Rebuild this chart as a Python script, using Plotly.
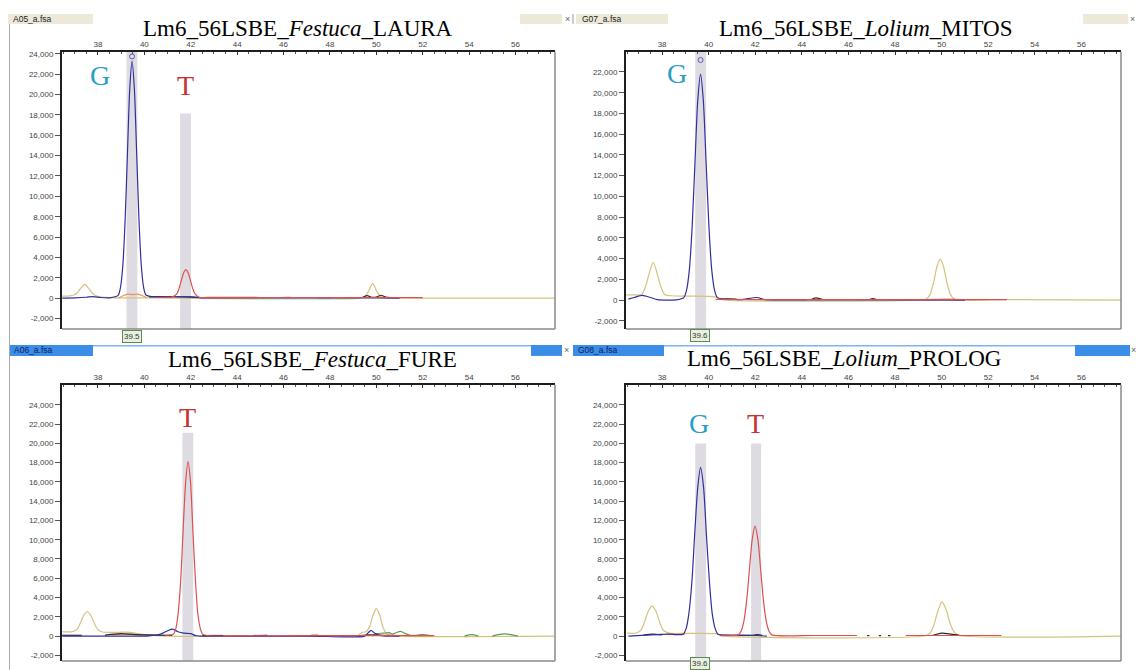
import plotly.graph_objects as go

W, H = 1136, 670

# ---------------- axis / text data ----------------
X_TICKS = [38, 40, 42, 44, 46, 48, 50, 52, 54, 56]
Y_TICKS = [-2000, 0, 2000, 4000, 6000, 8000, 10000, 12000, 14000, 16000,
           18000, 20000, 22000, 24000]
X_RANGE = [36.45, 57.7]
Y_RANGES = [[-3040, 24200], [-2790, 23940], [-2590, 26070], [-2590, 26070]]
FILES = ["A05_a.fsa", "G07_a.fsa", "A06_a.fsa", "G08_a.fsa"]
GENUS = ["Festuca", "Lolium", "Festuca", "Lolium"]
CULTIVAR = ["LAURA", "MITOS", "FURE", "PROLOG"]

# ---------------- top-left: Festuca LAURA ----------------
TL_BLUE_X = [36.46, 37.0, 37.5, 37.8, 38.1, 38.5, 38.87, 38.97, 39.07, 39.17, 39.27, 39.37, 39.47,
             39.57, 39.67, 39.77, 39.87, 39.97, 40.07, 40.3, 41.0, 41.5, 42.0, 42.5, 44.0, 46.0,
             48.0, 50.0, 51.0]
TL_BLUE_Y = [0, 20, 80, 150, 60, 30, 260, 1025, 3150, 7570, 14140, 20550, 23300,
             20550, 14140, 7570, 3150, 1025, 300, 150, 150, 120, 100, 30, 20, 20,
             20, 20, 0]
TL_RED_X = [40.5, 41.0, 41.19, 41.39, 41.49, 41.59, 41.69, 41.79, 41.89, 41.99, 42.09, 42.19,
            42.39, 42.7, 45.0, 48.0, 52.0]
TL_RED_Y = [60, 80, 100, 380, 910, 1700, 2470, 2800, 2470, 1700, 910, 380,
            60, 70, 60, 60, 50]
TL_TAN_X = [36.46, 36.8, 36.95, 37.1, 37.25, 37.43, 37.6, 37.75, 37.9, 38.1, 38.5, 39.0, 40.0,
            40.5, 41.0, 49.3, 49.5, 49.67, 49.84, 50.01, 50.18, 50.4, 50.6, 57.7]
TL_TAN_Y = [200, 220, 300, 500, 950, 1350, 950, 500, 250, 120, 50, 30, 30,
            20, 0, 0, 150, 700, 1440, 700, 150, 0, 0, 0]
TL_ORANGE_X = [38.9, 39.1, 39.3, 39.5, 39.7, 39.9, 40.1]
TL_ORANGE_Y = [0, 250, 380, 340, 380, 250, 40]
TL_GREEN_X = []
TL_GREEN_Y = []
TL_BLACK_X = [40.2, 40.8, 41.4, 42.0, 42.4, None, 46.0, 46.3, None, 47.5, 48.0, None,
              49.4, 49.6, 49.8, 50.0, 50.2, 50.4, 50.6]
TL_BLACK_Y = [120, 130, 130, 120, 60, None, 60, 60, None, 50, 50, None,
              50, 250, 80, 100, 280, 100, 50]
TL_BINS = [[39.23, 39.70, 24200], [41.54, 42.01, 18130]]
TL_ALLELES = [["G", 38.09, 21850], ["T", 41.79, 20900]]
TL_APEX = [39.47, 23750]
TL_SIZE_LABEL = ["39.5", 39.47]

# ---------------- top-right: Lolium MITOS ----------------
TR_BLUE_X = [36.55, 36.8, 37.15, 37.5, 37.8, 38.2, 38.6, 38.93, 39.05, 39.17, 39.29, 39.41, 39.53,
             39.65, 39.77, 39.89, 40.01, 40.13, 40.25, 40.37, 40.6, 41.0, 41.4, 42.07, 42.4,
             43.0, 47.0, 51.0]
TR_BLUE_Y = [100, 250, 450, 250, 50, 0, 20, 240, 960, 2940, 7085, 13230, 19230,
             21800, 19230, 13230, 7085, 2940, 960, 240, 100, 80, 50, 250, 50,
             30, 30, 0]
TR_RED_X = [40.3, 42.0, 45.0, 48.0, 52.8]
TR_RED_Y = [60, 50, 50, 50, 40]
TR_TAN_X = [36.46, 36.9, 37.12, 37.28, 37.45, 37.62, 37.79, 37.96, 38.12, 38.4, 39.0, 40.0, 40.4,
            40.6, 49.2, 49.32, 49.5, 49.66, 49.8, 49.94, 50.08, 50.22, 50.38, 50.56, 52.8, 57.7]
TR_TAN_Y = [500, 500, 550, 1250, 2600, 3650, 2550, 1200, 520, 420, 380, 350, 250,
            30, 30, 75, 530, 1760, 3240, 3950, 3240, 1760, 530, 75, 50, 0]
TR_ORANGE_X = []
TR_ORANGE_Y = []
TR_GREEN_X = []
TR_GREEN_Y = []
TR_BLACK_X = [40.5, 40.8, 41.2, None, 42.7, 43.5, 44.2, None, 44.4, 44.6, 44.9, None,
              46.9, 47.05, 47.2, None, 49.3, 50.2, 50.95]
TR_BLACK_Y = [100, 120, 80, None, 50, 50, 50, None, 60, 220, 60, None,
              50, 150, 50, None, 50, 60, 50]
TR_BINS = [[39.42, 39.89, 23940]]
TR_ALLELES = [["G", 38.65, 21840]]
TR_APEX = [39.65, 23150]
TR_SIZE_LABEL = ["39.6", 39.63]

# ---------------- bottom-left: Festuca FURE ----------------
BL_BLUE_X = [36.46, 38.5, 40.2, 40.7, 41.0, 41.22, 41.45, 41.7, 42.0, 42.2, 42.5, 47.0,
             49.5, 49.65, 49.77, 49.9, 50.1, 50.4, 51.0]
BL_BLUE_Y = [0, 0, 30, 200, 550, 720, 450, 300, 250, 60, 0, 0,
             0, 350, 600, 350, 100, 0, 0]
BL_RED_X = [40.9, 41.25, 41.36, 41.46, 41.57, 41.67, 41.78, 41.88, 41.99, 42.09, 42.2, 42.3,
            42.41, 42.51, 42.7, 47.0, 52.5]
BL_RED_Y = [50, 200, 800, 2440, 5880, 10990, 15960, 18100, 15960, 10990, 5880, 2440,
            800, 200, 60, 50, 50]
BL_TAN_X = [36.46, 36.9, 37.1, 37.25, 37.4, 37.54, 37.68, 37.83, 38.0, 38.2, 38.6, 39.2, 39.6,
            40.0, 40.5, 41.0, 49.0, 49.2, 49.4, 49.55, 49.7, 49.85, 50.0, 50.15, 50.3, 50.45,
            50.7, 57.7]
BL_TAN_Y = [450, 450, 700, 1400, 2200, 2550, 2200, 1400, 650, 420, 380, 400, 300,
            150, 50, 0, 0, 50, 400, 450, 900, 2100, 2870, 2100, 800, 250,
            50, 0]
BL_ORANGE_X = [38.6, 39.2, 39.8, 40.4, None, 42.6, 44.5, None, 48.9, 49.2, None, 51.2, 52.2]
BL_ORANGE_Y = [150, 200, 150, 120, None, 50, 50, None, 50, 50, None, 60, 60]
BL_GREEN_X = [49.8, 50.0, 50.3, 50.55, 50.7, 50.85, 51.05, 51.25, 51.5, 51.8, 52.0, 52.3, None,
              53.8, 54.1, 54.4, None, 55.0, 55.3, 55.55, 55.8, 56.1]
BL_GREEN_Y = [0, 250, 300, 350, 200, 350, 480, 250, 50, 100, 150, 50, None,
              0, 150, 0, None, 0, 170, 220, 150, 0]
BL_BLACK_X = [36.46, 37.3, None, 38.3, 39.0, 39.6, 40.5, 41.2, None, 42.5, 43.4, None,
              44.7, 45.3, None, 47.2, 47.5, None, 49.3, 49.7, 50.3, 51.0]
BL_BLACK_Y = [80, 80, None, 100, 250, 150, 100, 80, None, 60, 60, None,
              60, 80, None, 80, 80, None, 60, 120, 80, 60]
BL_BINS = [[41.64, 42.11, 21100]]
BL_ALLELES = [["T", 41.88, 22670]]
BL_APEX = None
BL_SIZE_LABEL = None

# ---------------- bottom-right: Lolium PROLOG ----------------
BR_BLUE_X = [36.55, 37.3, 37.8, 38.3, 38.6, 38.9, 39.03, 39.15, 39.28, 39.4, 39.53, 39.65,
             39.78, 39.9, 40.03, 40.15, 40.28, 40.4, 40.7, 41.5, 42.1, 42.5]
BR_BLUE_Y = [0, 100, 150, 200, 150, 190, 770, 2360, 5690, 10620, 15435, 17500,
             15435, 10620, 5690, 2360, 770, 190, 100, 80, 60, 0]
BR_RED_X = [40.5, 41.0, 41.27, 41.39, 41.51, 41.63, 41.75, 41.87, 41.99, 42.11, 42.23, 42.35,
            42.47, 42.59, 42.71, 44.5, 46.36, None, 48.46, 50.5, 52.57]
BR_RED_Y = [40, 60, 125, 500, 1540, 3705, 6920, 10055, 11400, 10055, 6920, 3705,
            1540, 500, 125, 60, 60, None, 60, 60, 60]
BR_TAN_X = [36.5, 36.9, 37.1, 37.25, 37.41, 37.57, 37.73, 37.89, 38.05, 38.3, 39.0, 40.3,
            40.6, 49.3, 49.5, 49.66, 49.84, 50.02, 50.2, 50.38, 50.56, 50.75, 57.7]
BR_TAN_Y = [300, 320, 650, 1500, 2600, 3100, 2600, 1500, 600, 300, 280, 250,
            30, 30, 300, 1100, 2600, 3550, 2700, 1200, 350, 60, 0]
BR_ORANGE_X = [38.2, 38.6, 39.0]
BR_ORANGE_Y = [200, 220, 200]
BR_GREEN_X = []
BR_GREEN_Y = []
BR_BLACK_X = [37.2, 37.6, 38.0, None, 40.5, 41.2, 41.9, 42.1, 42.3, None, 46.8, 46.9, None,
              47.3, 47.4, None, 47.7, 47.8, None, 49.6, 50.0, 50.4, 50.8]
BR_BLACK_Y = [100, 200, 120, None, 80, 80, 80, 150, 80, None, 50, 50, None,
              50, 50, None, 50, 50, None, 60, 300, 200, 60]
BR_BINS = [[39.42, 39.89, 19975], [41.82, 42.25, 19975]]
BR_ALLELES = [["G", 39.59, 22050], ["T", 41.99, 22050]]
BR_APEX = None
BR_SIZE_LABEL = ["39.6", 39.63]

# ---------------- styling ----------------
C_BLUE = "#30309C"
C_RED = "#DD5050"
C_TAN = "#D6C27E"
C_ORANGE = "#EE8F5C"
C_GREEN = "#5C9C52"
C_BLACK = "#2A2A2A"
ALLELE_COLORS = {"G": "#2A9DC8", "T": "#C83232"}
BEIGE = "#ECE9D8"
TABBLUE = "#3B8DE8"
SERIF = "Liberation Serif"

PANELS = [
    dict(dom=(62, 555, 50, 328), title_c=(298, 27),
         traces=[(TL_TAN_X, TL_TAN_Y, C_TAN), (TL_ORANGE_X, TL_ORANGE_Y, C_ORANGE),
                 (TL_GREEN_X, TL_GREEN_Y, C_GREEN), (TL_BLACK_X, TL_BLACK_Y, C_BLACK),
                 (TL_BLUE_X, TL_BLUE_Y, C_BLUE), (TL_RED_X, TL_RED_Y, C_RED)],
         bins=TL_BINS, alleles=TL_ALLELES, apex=TL_APEX, size_label=TL_SIZE_LABEL, lab_py=335.5),
    dict(dom=(626, 1121, 50, 328), title_c=(866, 27),
         traces=[(TR_TAN_X, TR_TAN_Y, C_TAN), (TR_ORANGE_X, TR_ORANGE_Y, C_ORANGE),
                 (TR_GREEN_X, TR_GREEN_Y, C_GREEN), (TR_BLACK_X, TR_BLACK_Y, C_BLACK),
                 (TR_BLUE_X, TR_BLUE_Y, C_BLUE), (TR_RED_X, TR_RED_Y, C_RED)],
         bins=TR_BINS, alleles=TR_ALLELES, apex=TR_APEX, size_label=TR_SIZE_LABEL, lab_py=334.5),
    dict(dom=(62, 555, 384, 661), title_c=(312, 359),
         traces=[(BL_TAN_X, BL_TAN_Y, C_TAN), (BL_ORANGE_X, BL_ORANGE_Y, C_ORANGE),
                 (BL_GREEN_X, BL_GREEN_Y, C_GREEN), (BL_BLACK_X, BL_BLACK_Y, C_BLACK),
                 (BL_BLUE_X, BL_BLUE_Y, C_BLUE), (BL_RED_X, BL_RED_Y, C_RED)],
         bins=BL_BINS, alleles=BL_ALLELES, apex=BL_APEX, size_label=BL_SIZE_LABEL, lab_py=668),
    dict(dom=(626, 1121, 384, 661), title_c=(844, 358),
         traces=[(BR_TAN_X, BR_TAN_Y, C_TAN), (BR_ORANGE_X, BR_ORANGE_Y, C_ORANGE),
                 (BR_GREEN_X, BR_GREEN_Y, C_GREEN), (BR_BLACK_X, BR_BLACK_Y, C_BLACK),
                 (BR_BLUE_X, BR_BLUE_Y, C_BLUE), (BR_RED_X, BR_RED_Y, C_RED)],
         bins=BR_BINS, alleles=BR_ALLELES, apex=BR_APEX, size_label=BR_SIZE_LABEL, lab_py=663.5),
]


def fx(px):
    return px / W


def fy(py):
    return 1 - py / H


fig = go.Figure()
shapes, annotations = [], []
layout = dict(width=W, height=H, margin=dict(l=0, r=0, t=0, b=0),
              paper_bgcolor="white", plot_bgcolor="white", showlegend=False)

tick_font = dict(family="Liberation Sans", size=8, color="#444444")

for i, p in enumerate(PANELS, start=1):
    xn = "x" if i == 1 else f"x{i}"
    yn = "y" if i == 1 else f"y{i}"
    xk = "xaxis" if i == 1 else f"xaxis{i}"
    yk = "yaxis" if i == 1 else f"yaxis{i}"
    l, r, t, b = p["dom"]
    yr = Y_RANGES[i - 1]
    layout[xk] = dict(domain=[fx(l), fx(r)], range=X_RANGE, anchor=yn, side="top",
                      tickmode="array", tickvals=X_TICKS, ticktext=[str(v) for v in X_TICKS],
                      ticks="inside", ticklen=3, tickcolor="#333333",
                      minor=dict(tickmode="linear", tick0=36, dtick=0.5, ticks="inside",
                                 ticklen=2, tickcolor="#555555"),
                      showline=True, linecolor="#1E1E1E", linewidth=2,
                      showgrid=False, zeroline=False, tickfont=tick_font, fixedrange=True)
    layout[yk] = dict(domain=[fy(b), fy(t)], range=yr, anchor=xn,
                      tickmode="array", tickvals=Y_TICKS,
                      ticktext=[f"{v:,}" for v in Y_TICKS],
                      ticks="outside", ticklen=5, tickcolor="#555555",
                      showline=True, linecolor="#1E1E1E", linewidth=2,
                      showgrid=False, zeroline=False, tickfont=tick_font, fixedrange=True)
    # right / bottom frame edges
    shapes.append(dict(type="line", xref=f"{xn} domain", yref=f"{yn} domain",
                       x0=1, x1=1, y0=0, y1=1, line=dict(color="#8A8A8A", width=1.5)))
    shapes.append(dict(type="line", xref=f"{xn} domain", yref=f"{yn} domain",
                       x0=0, x1=1, y0=0, y1=0, line=dict(color="#8A8A8A", width=1.5)))
    # bins
    for x0, x1, top in p["bins"]:
        shapes.append(dict(type="rect", xref=xn, yref=yn, x0=x0, x1=x1, y0=yr[0],
                           y1=min(top, yr[1]), fillcolor="#DEDBE3", line=dict(width=0),
                           layer="below"))
    # traces
    for xs, ys, col in p["traces"]:
        if not xs:
            continue
        fig.add_trace(go.Scatter(x=xs, y=ys, xaxis=xn, yaxis=yn, mode="lines",
                                 line=dict(color=col, width=1.2, shape="spline", smoothing=0.7),
                                 connectgaps=False, hoverinfo="skip"))
    if p["apex"]:
        fig.add_trace(go.Scatter(x=[p["apex"][0]], y=[p["apex"][1]], xaxis=xn, yaxis=yn,
                                 mode="markers",
                                 marker=dict(symbol="circle-open", size=5, color="#5A5AA8",
                                             line=dict(width=1)), hoverinfo="skip"))
    # allele letters
    for letter, ax, ay in p["alleles"]:
        annotations.append(dict(xref=xn, yref=yn, x=ax, y=ay, text=letter, showarrow=False,
                                font=dict(family=SERIF, size=28, color=ALLELE_COLORS[letter])))
    # size label box
    if p["size_label"]:
        annotations.append(dict(xref=xn, yref="paper", x=p["size_label"][1], y=fy(p["lab_py"]),
                                text=p["size_label"][0], showarrow=False,
                                font=dict(family="Liberation Sans", size=8, color="#333"),
                                bgcolor="#E9F0E2", bordercolor="#5E8A4E", borderwidth=1,
                                borderpad=1, xanchor="center", yanchor="middle"))
    # title
    annotations.append(dict(xref="paper", yref="paper", x=fx(p["title_c"][0]),
                            y=fy(p["title_c"][1]),
                            text=f"Lm6_56LSBE_<i>{GENUS[i-1]}</i>_{CULTIVAR[i-1]}",
                            showarrow=False, xanchor="center", yanchor="middle",
                            font=dict(family=SERIF, size=23, color="black")))


def rect(x0, y0, x1, y1, color):
    shapes.append(dict(type="rect", xref="paper", yref="paper", x0=fx(x0), x1=fx(x1),
                       y0=fy(y1), y1=fy(y0), fillcolor=color, line=dict(width=0)))


def label(x, y, text, size=8.5, color="#1A1A1A", anchor="left"):
    annotations.append(dict(xref="paper", yref="paper", x=fx(x), y=fy(y), text=text,
                            showarrow=False, xanchor=anchor, yanchor="middle",
                            font=dict(family="Liberation Sans", size=size, color=color)))


# window border
shapes.append(dict(type="line", xref="paper", yref="paper", x0=fx(9.5), x1=fx(9.5),
                   y0=0, y1=fy(12), line=dict(color="#A8A8A8", width=1)))

# top headers (beige)
rect(8, 12, 93, 22, BEIGE)
rect(520, 12, 562, 22, BEIGE)
rect(576, 12, 668, 22, BEIGE)
rect(1083, 12, 1128, 22, BEIGE)
shapes.append(dict(type="line", xref="paper", yref="paper", x0=fx(573), x1=fx(573),
                   y0=fy(22), y1=fy(12), line=dict(color="#9A9A9A", width=1)))
label(11, 17, FILES[0])
label(580, 17, FILES[1])
label(567, 17, "×", size=9, color="#666", anchor="center")
label(1132, 17, "×", size=9, color="#666", anchor="center")

# bottom headers (blue)
rect(10, 344, 93, 355, TABBLUE)
rect(93, 344, 531, 345.5, "#7DB3EE")
rect(531, 344, 562, 355, TABBLUE)
rect(573, 344, 664, 355, TABBLUE)
rect(664, 344, 1075, 345.5, "#7DB3EE")
rect(1075, 344, 1130, 355, TABBLUE)
label(12, 349.5, FILES[2], color="#10205A")
label(576, 349.5, FILES[3], color="#10205A")
label(566, 349.5, "×", size=9, color="#666", anchor="center")
label(1133, 349.5, "×", size=9, color="#666", anchor="center")

layout["shapes"] = shapes
layout["annotations"] = annotations
fig.update_layout(**layout)
fig.write_html("out.html")
